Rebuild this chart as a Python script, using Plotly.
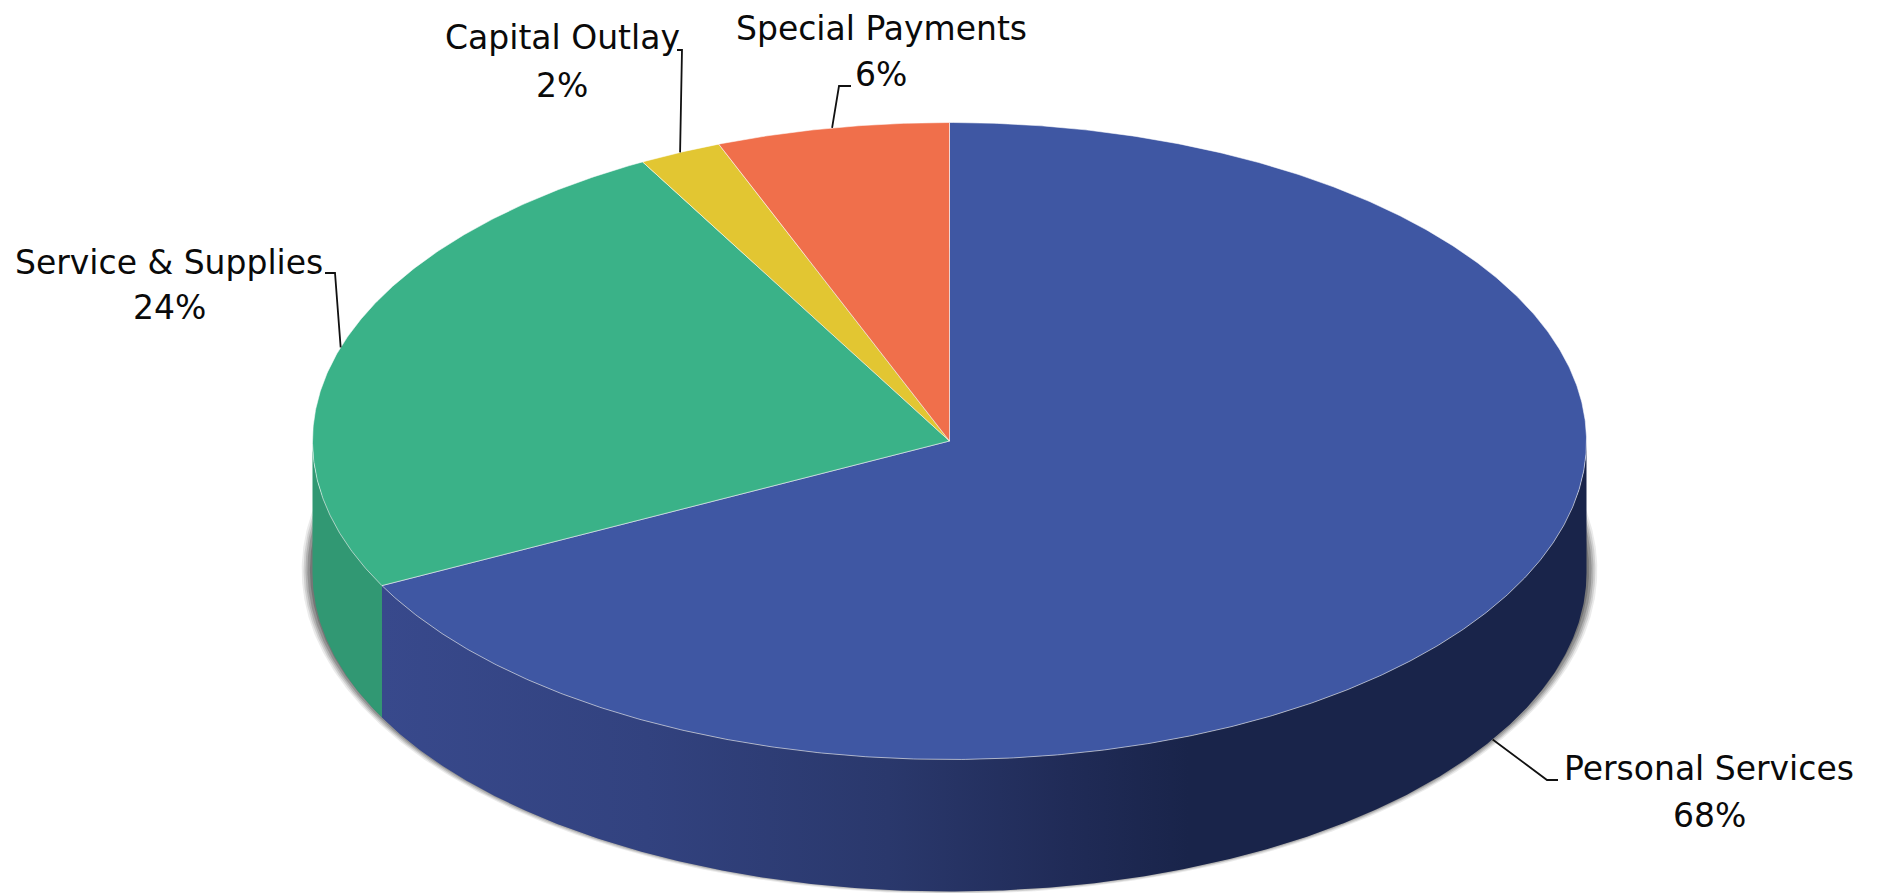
import numpy as np
import plotly.graph_objects as go

# --- data ---
categories = ["Personal Services", "Service & Supplies", "Capital Outlay", "Special Payments"]
values = [67.5, 24.5, 2.1, 5.9]
percent_labels = ["68%", "24%", "2%", "6%"]
top_colors = ["#3F57A3", "#3AB288", "#E2C632", "#F06F4B"]
side_colors = ["#19244A", "#319873", "#B9A32A", "#C25B3E"]
gradient_stops = [[0.0, "#38498C"], [0.22, "#32427F"], [0.42, "#2A386C"], [0.57, "#202B57"],
                  [0.67, "#19244A"], [1.0, "#19244A"]]

# --- layout (pixels in the 1879x893 page) ---
W, H = 1879, 893
CX, CY, RX, RY, DEPTH = 949.5, 441.0, 637.0, 318.5, 132.0
FONT = "DejaVu Sans"
FONT_SIZE = 33
name_pos = [(1709, 768), (169, 262), (562, 38), (881, 29)]
pct_pos = [(1709, 815), (169, 307), (562, 85), (881, 75)]
# elbow of every leader, relative to page pixels, after its anchor on the slice
leader_elbows = [[(1547, 780), (1558, 780)], [(335, 273), (325, 273)],
                 [(682, 50), (677, 50)], [(839, 86), (851, 86)]]

depth_u = DEPTH / RY


def ux(px):
    return (px - CX) / RX


def uy(py):
    return (CY - py) / RY


def arc(a0, a1, dy=0.0, rx=1.0, ry=1.0):
    n = max(int(abs(a1 - a0) * 3), 2)
    t = np.radians(np.linspace(a0, a1, n))
    return rx * np.sin(t), ry * np.cos(t) - dy


fractions = np.array(values) / sum(values) * 360
ends = np.cumsum(fractions)
starts = ends - fractions
mids = (starts + ends) / 2

fig = go.Figure()

# soft shadow beneath the disc
for grow, alpha in [(1.017, 0.12), (1.014, 0.18), (1.011, 0.25), (1.008, 0.35), (1.004, 0.5)]:
    x, y = arc(0, 360, dy=129 / RY, rx=grow, ry=grow)
    fig.add_trace(go.Scatter(x=x, y=y, mode="lines", fill="toself", line=dict(width=0),
                             fillcolor=f"rgba(90,90,90,{alpha})", hoverinfo="skip", showlegend=False))

# side walls (only the front half of the disc shows)
for i, cat in enumerate(categories):
    a0, a1 = max(starts[i], 90), min(ends[i], 270)
    if a1 <= a0:
        continue
    xt, yt = arc(a0, a1)
    xb, yb = arc(a1, a0, dy=depth_u)
    kw = dict(fillcolor=side_colors[i])
    if i == 0:
        kw = dict(fillgradient=dict(type="horizontal", colorscale=gradient_stops))
    fig.add_trace(go.Scatter(x=np.r_[xt, xb], y=np.r_[yt, yb], mode="lines", fill="toself",
                             line=dict(width=0), hoverinfo="skip", showlegend=False, **kw))

# top slices
for i, cat in enumerate(categories):
    xa, ya = arc(starts[i], ends[i])
    fig.add_trace(go.Scatter(x=np.r_[0, xa, 0], y=np.r_[0, ya, 0], mode="lines", fill="toself",
                             fillcolor=top_colors[i], line=dict(width=1, color="rgba(255,255,255,0.55)"),
                             name=cat, text=percent_labels[i], hoverinfo="name+text", showlegend=False))

# leader lines, anchored on each slice's mid angle
for i, cat in enumerate(categories):
    xa, ya = np.sin(np.radians(mids[i])), np.cos(np.radians(mids[i]))
    if 90 < mids[i] < 270:
        ya -= depth_u
    lx = [xa] + [ux(p[0]) for p in leader_elbows[i]]
    ly = [ya] + [uy(p[1]) for p in leader_elbows[i]]
    fig.add_trace(go.Scatter(x=lx, y=ly, mode="lines", line=dict(width=1.8, color="#111111"),
                             hoverinfo="skip", showlegend=False))

# labels
for i, cat in enumerate(categories):
    for txt, (px, py) in ((cat, name_pos[i]), (percent_labels[i], pct_pos[i])):
        fig.add_annotation(x=px / W, y=1 - py / H, xref="paper", yref="paper", text=txt, showarrow=False,
                           xanchor="center", yanchor="middle", font=dict(family=FONT, size=FONT_SIZE, color="#0A0A0A"))

fig.update_layout(
    width=W, height=H, margin=dict(l=0, r=0, t=0, b=0), paper_bgcolor="white", plot_bgcolor="white",
    xaxis=dict(range=[ux(0), ux(W)], visible=False, fixedrange=True),
    yaxis=dict(range=[uy(H), uy(0)], visible=False, fixedrange=True),
    showlegend=False,
)
fig.write_html("out.html", config={"displayModeBar": False},
               post_script="document.body.style.margin='0';document.documentElement.style.overflow='hidden';")
